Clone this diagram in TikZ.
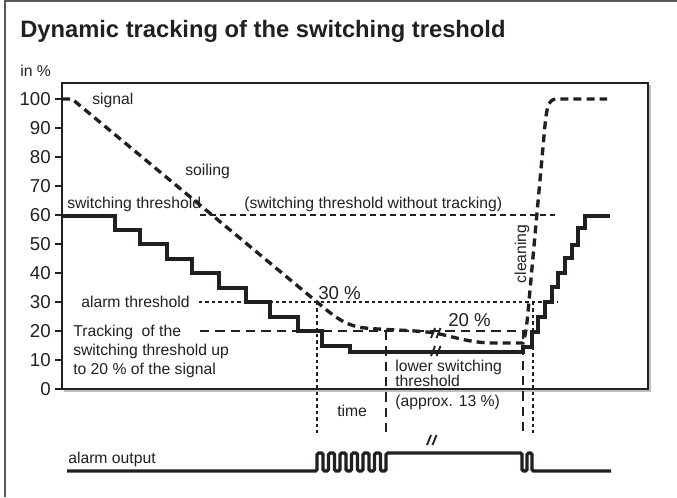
\documentclass[tikz,border=0pt]{standalone}
\usepackage{fontspec}
\setmainfont{Liberation Sans}
\usepackage{tikz}
\usetikzlibrary{positioning}
\definecolor{ink}{HTML}{231F20}
\definecolor{rim}{HTML}{5A5A5A}
\tikzstyle{lbl}=[inner sep=0pt,text=ink,font=\fontsize{11.8}{14}\selectfont]
\tikzstyle{num}=[inner sep=0pt,text=ink,font=\fontsize{14}{16}\selectfont]
\tikzstyle{heavy}=[draw=ink,line width=2.5pt]
\tikzstyle{heavydash}=[heavy,dash pattern=on 6pt off 3.8pt]
\tikzstyle{pulse}=[heavy,rounded corners=1.2pt]
\tikzstyle{finedash}=[draw=ink,line width=0.8pt,dash pattern=on 2.6pt off 2.2pt]
\tikzstyle{middash}=[draw=ink,line width=0.8pt,dash pattern=on 4.5pt off 3pt]
\tikzstyle{longdash}=[draw=ink,line width=0.8pt,dash pattern=on 7pt off 4.5pt]
\tikzstyle{brk}=[draw=ink,line width=1.4pt]

\begin{document}
\begin{tikzpicture}[x=0.75pt,y=-0.75pt]
  \useasboundingbox (0,0) rectangle (677,497);
  % outer frame and plot box
  \draw[rim,line width=1.5pt] (5,497) -- (5,1) -- (677,1);
  \draw[black!25,line width=1.2pt] (650,85) -- (650,391) -- (64,391);
  \draw[ink,line width=1.1pt] (62,83) rectangle (648,389);

  \node[inner sep=0pt,text=ink,anchor=base west,font=\fontsize{17.8}{21}\selectfont\bfseries] (title) at (20,37)
    {Dynamic tracking of the switching treshold};
  \node[lbl,anchor=base west] (unit) at (20,76) {in \%};

  % y axis
  \foreach \v in {0,10,...,100} {
    \draw[ink,line width=1.2pt] (55,{389-2.9*\v}) -- (62,{389-2.9*\v});
    \node[num,anchor=east] (t\v) at (51,{389-2.9*\v}) {\v};
  }

  % helper lines
  \draw[middash] (200,215) -- (555,215);
  \draw[finedash] (199,302) -- (558,302);
  \draw[longdash] (200,331) -| (523,435);
  \draw[finedash] (317,302) -- (317,435);
  \draw[longdash] (386,331) -- (386,435);
  \draw[finedash] (533,302) -- (533,435);

  % switching threshold
  \draw[heavy] (62,216) -| (115,230) -| (140,244) -| (167,259) -| (192,273)
    -| (219,288) -| (246,302) -| (270,317) -| (298,331) -| (322,346) -| (350,352)
    -- (523,352) |- (532,347) |- (538,332) |- (545,317) |- (552,302) |- (558,287)
    |- (565,273) |- (572,258) |- (578,245) |- (585,228) |- (610,216);

  % signal
  \draw[heavydash] (62,99) -- (72,99) -- (317,302) .. controls (337,319) and (347,326) .. (365,328)
    .. controls (385,330) and (415,330) .. (435,333) .. controls (455,337) and (470,343) .. (495,343)
    -- (523,343) .. controls (526,334) and (527,322) .. (528,312) -- (545,125)
    .. controls (547,105) and (549,99) .. (557,99) -- (607,99);

  % alarm output
  \draw[pulse] (67,471) -- (317,471) \foreach \k in {1,...,6} { -- ++(0,-18) -- ++(6,0) -- ++(0,18) -- ++(5.5,0) }
    -- ++(0,-18) -- (522,453) -- (522,471) -- (527,471) -- (527,453) -- (532,453) -- (532,471) -- (611,471);

  % breaks
  \foreach \bx/\by in {436/333,436/351,432/440}
    \draw[brk] (\bx,\by) ++(-5,5) -- ++(4,-10) ++(1.5,10) -- ++(4,-10);

  % labels
  \node[lbl,anchor=base west] (signal) at (92,104) {signal};
  \node[lbl,anchor=base west] (soiling) at (185,175) {soiling};
  \node[lbl,anchor=base west] (swthr) at (67,208) {switching threshold};
  \node[lbl,anchor=base west] (notrack) at (244,208) {(switching threshold without tracking)};
  \node[lbl,rotate=90] (cleaning) at (522,254) {cleaning};
  \node[num,anchor=base west] (p30) at (318,299) {30 \%};
  \node[num,anchor=base west] (p20) at (448,326) {20 \%};
  \node[lbl,anchor=base west] (alarmthr) at (81,307) {alarm threshold};
  \node[lbl,anchor=base west] (trk1) at (73,336) {Tracking\ \ of the};
  \node[lbl,anchor=base west] (trk2) at (73,355) {switching threshold up};
  \node[lbl,anchor=base west] (trk3) at (73,374) {to 20 \% of the signal};
  \node[lbl,anchor=base west] (low1) at (395,371) {lower switching};
  \node[lbl,anchor=base west] (low2) at (395,386.5) {threshold};
  \node[lbl,anchor=base west] (low3) at (395,406) {(approx. 13 \%)};
  \node[lbl,anchor=base west] (time) at (337,416) {time};
  \node[lbl,anchor=base west] (alarmout) at (68,463) {alarm output};
\end{tikzpicture}
\end{document}
